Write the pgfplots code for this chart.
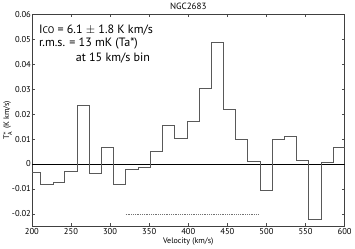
\documentclass[border=0pt]{standalone}
\usepackage{pgfplots}
\pgfplotsset{compat=1.18}
\usepackage{fontspec}
\setmainfont{PT Sans}
\pgfplotstableread{
x y
200 -0.0035
211 -0.0080
227 -0.0073
242 -0.0031
258 0.0236
273.5 -0.0039
289 0.0065
304 -0.0081
319.5 -0.0020
335.6 -0.0012
351.7 0.0050
367 0.0157
382.6 0.0101
398.2 0.0170
413.8 0.0304
429.4 0.0490
445 0.0219
460.6 0.0099
476 0.0012
492 -0.0105
507.5 0.0097
523 0.0110
538 0.0014
554 -0.0223
569.6 0.0008
585.4 0.0068
600 0.0068
}\spec
\begin{document}
\begin{tikzpicture}[x=1bp,y=1bp]
\begin{axis}[
  scale only axis,
  width=310bp, height=210bp,
  xmin=200, xmax=600, ymin=-0.025, ymax=0.06,
  xtick={200,250,...,600},
  ytick={-0.02,-0.01,0,0.01,0.02,0.03,0.04,0.05,0.06},
  yticklabels={-0.02,-0.01,0,0.01,0.02,0.03,0.04,0.05,0.06},
  scaled y ticks=false,
  tick align=inside,
  major tick length=3bp,
  tick style={black!70, line width=0.5pt},
  axis line style={black!75, line width=0.7pt},
  ticklabel style={font=\fontsize{8.5}{9}\selectfont},
  xticklabel style={yshift=1bp},
  yticklabel style={xshift=2.5bp},
  /pgf/number format/assume math mode=true,
  xlabel={Velocity (km/s)},
  ylabel={T$^{*}_{\mathrm{A}}$ (K km/s)},
  xlabel style={font=\fontsize{8}{9}\selectfont, yshift=4bp},
  ylabel style={font=\fontsize{8}{9}\selectfont, yshift=-7bp},
  title={NGC2683},
  title style={font=\fontsize{9}{10}\selectfont, yshift=-5bp},
  clip=true,
]
\addplot[black, line width=0.5pt, forget plot] coordinates {(200,0) (600,0)};
\addplot[const plot mark left, black!65, line width=0.7pt, mark=none] table[x=x,y=y] {\spec};
\addplot[black!55, line width=0.3pt, dash pattern=on 1pt off 0.8pt] coordinates {(320,-0.02) (491,-0.02)};
\node[anchor=west, inner sep=0pt, font=\fontsize{12}{13}\selectfont] at (axis cs:209,0.0536) {I{\fontsize{9.5}{10}\selectfont CO} = 6.1 $\pm$ 1.8 K km/s};
\node[anchor=west, inner sep=0pt, font=\fontsize{12}{13}\selectfont] at (axis cs:209,0.0483) {r.m.s. = 13 mK (Ta*)};
\node[anchor=west, inner sep=0pt, font=\fontsize{12}{13}\selectfont] at (axis cs:256,0.0424) {at 15 km/s bin};
\end{axis}
\end{tikzpicture}
\end{document}
